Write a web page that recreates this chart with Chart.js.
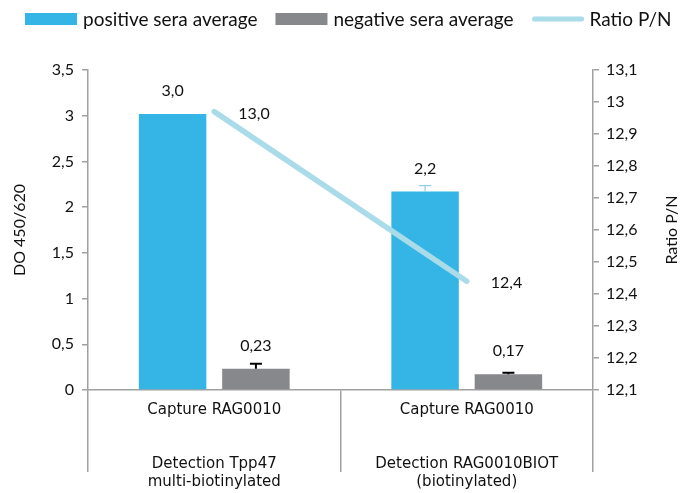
<!DOCTYPE html>
<html>
<head>
<meta charset="utf-8">
<script src="https://cdn.jsdelivr.net/npm/chart.js@4"></script>
<style>
  html, body { margin: 0; padding: 0; background: #fff; }
  #wrap { width: 694px; height: 493px; }
</style>
</head>
<body>
<div id="wrap"><canvas id="c" width="694" height="493"></canvas></div>
<script>
// data
const categories = [
    ['Capture RAG0010', '', '', 'Detection Tpp47', 'multi-biotinylated'],
    ['Capture RAG0010', '', '', 'Detection RAG0010BIOT', '(biotinylated)'],
];
const positiveAvg = [3.02, 2.17];
const positiveErr = [0.0, 0.065];
const negativeAvg = [0.232, 0.173];
const negativeErr = [0.055, 0.015];
const ratioPN = [12.97, 12.44];

const leftTicks = [0, 0.5, 1, 1.5, 2, 2.5, 3, 3.5];
const rightTicks = [12.1, 12.2, 12.3, 12.4, 12.5, 12.6, 12.7, 12.8, 12.9, 13.0, 13.1];

const COLORS = {
    blue: '#35B5E5',
    gray: '#86888B',
    ratio: '#A9DCE8',
    axis: '#A0A0A0',
    text: '#111111',
};
const FONT = 'Lato, "Open Sans", sans-serif';
const CAT_FONT = '"DejaVu Sans", Verdana, sans-serif';

const comma = (v) => String(v).replace('.', ',');

// error bars drawn on top of the bars
const errorBars = {
    id: 'errorBars',
    afterDatasetsDraw(chart) {
        const ctx = chart.ctx;
        chart.data.datasets.forEach((ds, i) => {
            if (!ds.errors) return;
            const meta = chart.getDatasetMeta(i);
            const scale = chart.scales[meta.yAxisID];
            meta.data.forEach((bar, j) => {
                const e = ds.errors[j];
                if (!e) return;
                const yTop = scale.getPixelForValue(ds.data[j] + e);
                ctx.save();
                ctx.strokeStyle = ds.errorColor;
                ctx.lineWidth = ds.errorWidth;
                ctx.beginPath();
                ctx.moveTo(bar.x, bar.y);
                ctx.lineTo(bar.x, yTop);
                ctx.moveTo(bar.x - 6, yTop);
                ctx.lineTo(bar.x + 6, yTop);
                ctx.stroke();
                ctx.restore();
            });
        });
    },
};

// value labels
const valueLabels = {
    id: 'valueLabels',
    afterDraw(chart) {
        const ctx = chart.ctx;
        ctx.save();
        ctx.fillStyle = COLORS.text;
        ctx.font = '16px ' + FONT;
        ctx.textBaseline = 'middle';
        chart.data.datasets.forEach((ds, i) => {
            const meta = chart.getDatasetMeta(i);
            meta.data.forEach((el, j) => {
                const txt = comma(ds.data[j].toFixed(ds.decimals));
                if (ds.type === 'line') {
                    ctx.textAlign = 'left';
                    ctx.fillText(txt, el.x + 24, el.y + 2);
                } else {
                    ctx.textAlign = 'center';
                    ctx.fillText(txt, el.x, el.y - 23);
                }
            });
        });
        ctx.restore();
    },
};

// legend on top + right axis title (reads bottom-to-top)
const decorations = {
    id: 'decorations',
    afterDraw(chart) {
        const ctx = chart.ctx;
        ctx.save();
        ctx.font = '19px ' + FONT;
        ctx.fillStyle = COLORS.text;
        ctx.textBaseline = 'middle';
        ctx.textAlign = 'left';
        const y = 19;
        let x = 25;
        chart.data.datasets.forEach((ds) => {
            if (ds.type === 'line') {
                ctx.strokeStyle = ds.borderColor;
                ctx.lineWidth = 5;
                ctx.lineCap = 'round';
                ctx.beginPath();
                ctx.moveTo(x + 3, y);
                ctx.lineTo(x + 50, y);
                ctx.stroke();
            } else {
                ctx.fillStyle = ds.backgroundColor;
                ctx.fillRect(x, y - 6, 52, 12);
            }
            ctx.fillStyle = COLORS.text;
            ctx.fillText(ds.label, x + 58, y + 1);
            x += 58 + ctx.measureText(ds.label).width + 18;
        });

        const r = chart.scales.y1;
        ctx.translate(672, (r.top + r.bottom) / 2);
        ctx.rotate(-Math.PI / 2);
        ctx.textAlign = 'center';
        ctx.font = '16px ' + FONT;
        ctx.fillText('Ratio P/N', 0, 0);
        ctx.restore();
    },
};

new Chart(document.getElementById('c'), {
    data: {
        labels: categories,
        datasets: [
            {
                type: 'bar',
                label: 'positive sera average',
                data: positiveAvg,
                errors: positiveErr,
                errorColor: '#8ECFE4',
                errorWidth: 1.2,
                decimals: 1,
                backgroundColor: COLORS.blue,
                yAxisID: 'y',
                order: 1,
                categoryPercentage: 0.66,
                barPercentage: 0.81,
            },
            {
                type: 'bar',
                label: 'negative sera average',
                data: negativeAvg,
                errors: negativeErr,
                errorColor: '#000000',
                errorWidth: 2,
                decimals: 2,
                backgroundColor: COLORS.gray,
                yAxisID: 'y',
                order: 1,
                categoryPercentage: 0.66,
                barPercentage: 0.81,
            },
            {
                type: 'line',
                label: 'Ratio P/N',
                data: ratioPN,
                decimals: 1,
                borderColor: COLORS.ratio,
                backgroundColor: COLORS.ratio,
                borderWidth: 5.5,
                borderCapStyle: 'round',
                pointRadius: 0,
                yAxisID: 'y1',
                order: 0,
            },
        ],
    },
    options: {
        responsive: false,
        animation: false,
        layout: { padding: { top: 70, left: 0, right: 0, bottom: 0 } },
        plugins: {
            legend: { display: false },
            tooltip: { enabled: false },
        },
        scales: {
            x: {
                afterFit: (s) => { s.height = 103; },
                grid: {
                    offset: true,
                    drawOnChartArea: false,
                    tickLength: 82,
                    color: COLORS.axis,
                    lineWidth: 1.5,
                },
                border: { color: COLORS.axis, width: 1.5 },
                ticks: {
                    color: COLORS.text,
                    font: { size: 15, family: CAT_FONT, lineHeight: 1.2 },
                    padding: -71,
                    maxRotation: 0,
                    autoSkip: false,
                },
            },
            y: {
                position: 'left',
                min: 0,
                max: 3.5,
                afterFit: (s) => { s.width = 88; },
                afterBuildTicks: (s) => { s.ticks = leftTicks.map((v) => ({ value: v })); },
                grid: { drawOnChartArea: false, tickLength: 6, color: COLORS.axis, lineWidth: 1.5 },
                border: { color: COLORS.axis, width: 1.5 },
                ticks: {
                    color: COLORS.text,
                    font: { size: 16, family: FONT },
                    padding: 8,
                    callback: (v) => comma(v),
                },
                title: {
                    display: true,
                    text: 'DO 450/620',
                    color: COLORS.text,
                    font: { size: 16, family: FONT },
                    padding: { top: 10, bottom: 0 },
                },
            },
            y1: {
                position: 'right',
                min: 12.1,
                max: 13.1,
                afterFit: (s) => { s.width = 101; },
                afterBuildTicks: (s) => { s.ticks = rightTicks.map((v) => ({ value: v })); },
                grid: { drawOnChartArea: false, tickLength: 6, color: COLORS.axis, lineWidth: 1.5 },
                border: { color: COLORS.axis, width: 1.5 },
                ticks: {
                    color: COLORS.text,
                    font: { size: 16, family: FONT },
                    padding: 7,
                    callback: (v) => comma(Number(v.toFixed(1))),
                },
            },
        },
    },
    plugins: [errorBars, valueLabels, decorations],
});
</script>
</body>
</html>
